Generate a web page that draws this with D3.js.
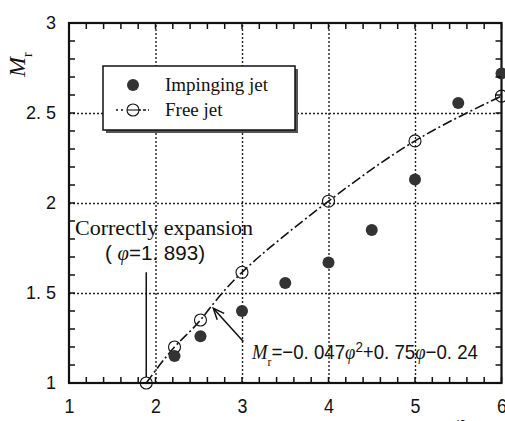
<!DOCTYPE html>
<html>
<head>
<meta charset="utf-8">
<script src="https://cdn.jsdelivr.net/npm/d3@7"></script>
<style>
  body { margin: 0; background: #fff; }
  svg { display: block; }
</style>
</head>
<body>
<svg id="chart"></svg>
<script>
// Impinging jet (filled dots)
const impingePhi = [2.22, 2.52, 3.0, 3.5, 4.0, 4.5, 5.0, 5.5, 6.0];
const impingeMr  = [1.15, 1.26, 1.40, 1.555, 1.67, 1.85, 2.13, 2.555, 2.72];

// Free jet (open circles, dash-dot fit)
const freePhi = [1.893, 2.22, 2.52, 3.0, 4.0, 5.0, 6.0];
const freeMr  = [1.0, 1.20, 1.35, 1.615, 2.01, 2.345, 2.594];

// Tick labels
const xTicks = [1, 2, 3, 4, 5, 6];
const yTicks = [1, 1.5, 2, 2.5, 3];
const yTickLabels = ['1', '1. 5', '2', '2. 5', '3'];
const xGrid = [2, 3, 4, 5];
const yGrid = [1.5, 2, 2.5];

// Annotation anchors in data units
const expansionPhi = 1.893;
const arrowTip = [2.668, 1.415];
const arrowTail = [3.015, 1.23];

const W = 505, H = 421;
const margin = {top: 23, right: 3.5, bottom: 38, left: 69};
const width = W - margin.left - margin.right;
const height = H - margin.top - margin.bottom;

const svg = d3.select('#chart').attr('width', W).attr('height', H);

const x = d3.scaleLinear().domain([1, 6]).range([0, width]);
const y = d3.scaleLinear().domain([1, 3]).range([height, 0]);
// page-coordinate versions for the frame ticks
const px = d3.scaleLinear().domain([1, 6]).range([margin.left, W - margin.right]);
const py = d3.scaleLinear().domain([1, 3]).range([H - margin.bottom, margin.top]);

const chart = svg.append('g')
    .attr('transform', `translate(${margin.left},${margin.top})`);

// dotted grid
const gridStyle = g => {
  g.select('.domain').remove();
  g.selectAll('line').attr('stroke', '#222').attr('stroke-width', 1.4).attr('stroke-dasharray', '2,2');
};
chart.append('g')
    .attr('transform', `translate(0,${height})`)
    .call(d3.axisBottom(x).tickValues(xGrid).tickSize(-height).tickFormat(''))
    .call(gridStyle);
chart.append('g')
    .call(d3.axisLeft(y).tickValues(yGrid).tickSize(-width).tickFormat(''))
    .call(gridStyle);

// tick labels
chart.append('g').attr('transform', `translate(0,${height})`)
    .call(d3.axisBottom(x).tickValues(xTicks).tickSize(0).tickPadding(15).tickFormat(d3.format('d')))
    .call(g => g.select('.domain').remove())
    .call(g => g.selectAll('text')
        .attr('font-family', 'Liberation Sans, Arial, sans-serif')
        .attr('font-size', 21).attr('fill', '#111')
        .attr('transform', 'scale(0.85,1)'));

chart.append('g')
    .call(d3.axisLeft(y).tickValues(yTicks).tickSize(0).tickPadding(13)
      .tickFormat((d, i) => yTickLabels[i]))
    .call(g => g.select('.domain').remove())
    .call(g => g.selectAll('text')
        .attr('font-family', 'Liberation Sans, Arial, sans-serif')
        .attr('font-size', 18).attr('fill', '#111'));

// frame
chart.append('rect')
    .attr('width', width).attr('height', height)
    .attr('fill', 'none').attr('stroke', '#111').attr('stroke-width', 2.2);

// minor ticks, all pointing inward (page coordinates)
const xMinor = px.ticks(25), yMinor = py.ticks(20);
const fBot = H - margin.bottom, fTop = margin.top, fLft = margin.left, fRgt = W - margin.right;
svg.selectAll('.xb').data(xMinor).enter().append('line').attr('class', 'xb')
    .attr('x1', d => px(d)).attr('x2', d => px(d)).attr('y1', fBot).attr('y2', fBot - 6)
    .attr('stroke', '#111').attr('stroke-width', 1.5);
svg.selectAll('.xt').data(xMinor).enter().append('line').attr('class', 'xt')
    .attr('x1', d => px(d)).attr('x2', d => px(d)).attr('y1', fTop).attr('y2', fTop + 6)
    .attr('stroke', '#111').attr('stroke-width', 1.5);
svg.selectAll('.yl').data(yMinor).enter().append('line').attr('class', 'yl')
    .attr('y1', d => py(d)).attr('y2', d => py(d)).attr('x1', fLft).attr('x2', fLft + 6)
    .attr('stroke', '#111').attr('stroke-width', 1.5);
svg.selectAll('.yr').data(yMinor).enter().append('line').attr('class', 'yr')
    .attr('y1', d => py(d)).attr('y2', d => py(d)).attr('x1', fRgt).attr('x2', fRgt - 6)
    .attr('stroke', '#111').attr('stroke-width', 1.5);

// free jet fitted curve (dash-dot)
const freeData = freePhi.map((p, i) => ({phi: p, mr: freeMr[i]}));
const line = d3.line().x(d => x(d.phi)).y(d => y(d.mr)).curve(d3.curveNatural);
chart.append('path')
    .datum(freeData)
    .attr('d', line)
    .attr('fill', 'none').attr('stroke', '#111').attr('stroke-width', 1.6)
    .attr('stroke-dasharray', '10,3,2,3');

chart.selectAll('.free')
    .data(freeData)
  .join('circle')
    .attr('class', 'free')
    .attr('cx', d => x(d.phi)).attr('cy', d => y(d.mr)).attr('r', 6)
    .attr('fill', 'none').attr('stroke', '#111').attr('stroke-width', 1.1);

const impData = impingePhi.map((p, i) => ({phi: p, mr: impingeMr[i]}));
chart.selectAll('.imp')
    .data(impData)
  .join('circle')
    .attr('class', 'imp')
    .attr('cx', d => x(d.phi)).attr('cy', d => y(d.mr)).attr('r', 6)
    .attr('fill', '#333');

// correct expansion marker line and label
chart.append('line')
    .attr('x1', x(expansionPhi)).attr('x2', x(expansionPhi))
    .attr('y1', y(1.0) - 6).attr('y2', y(1.615))
    .attr('stroke', '#111').attr('stroke-width', 1.5);
chart.append('text')
    .attr('x', 6).attr('y', 212)
    .attr('font-family', 'Liberation Serif, Times New Roman, serif')
    .attr('font-size', 20).attr('fill', '#111')
    .attr('textLength', 178).attr('lengthAdjust', 'spacingAndGlyphs')
    .text('Correctly expansion');
const t2 = chart.append('text')
    .attr('x', 36).attr('y', 237)
    .attr('font-family', 'Liberation Sans, Arial, sans-serif')
    .attr('font-size', 20).attr('fill', '#111')
    .attr('textLength', 100).attr('lengthAdjust', 'spacingAndGlyphs');
t2.append('tspan').text('( ');
t2.append('tspan').attr('font-family', 'Liberation Serif, serif').attr('font-style', 'italic').text('φ');
t2.append('tspan').text('=1. 893)');

// arrow to fitted curve
chart.append('line')
    .attr('x1', x(arrowTail[0])).attr('y1', y(arrowTail[1]))
    .attr('x2', x(arrowTip[0])).attr('y2', y(arrowTip[1]))
    .attr('stroke', '#111').attr('stroke-width', 1.5);
{
  const tx = x(arrowTip[0]), ty = y(arrowTip[1]);
  const ang = Math.atan2(y(arrowTail[1]) - ty, x(arrowTail[0]) - tx);
  const L = 12, s = 0.4;
  const p1 = [tx + L * Math.cos(ang - s), ty + L * Math.sin(ang - s)];
  const p2 = [tx + L * Math.cos(ang + s), ty + L * Math.sin(ang + s)];
  chart.append('path')
      .attr('d', `M${p1}L${tx},${ty}L${p2}`)
      .attr('fill', 'none').attr('stroke', '#111').attr('stroke-width', 1.5);
}

// fit equation
const eq = chart.append('text')
    .attr('x', 183).attr('y', 336)
    .attr('font-family', 'Liberation Sans, Arial, sans-serif')
    .attr('font-size', 21).attr('fill', '#111')
    .attr('textLength', 226).attr('lengthAdjust', 'spacingAndGlyphs');
eq.append('tspan').attr('font-family', 'Liberation Serif, serif').attr('font-style', 'italic').text('M');
eq.append('tspan').attr('font-family', 'Liberation Serif, serif').attr('font-size', 13).attr('dy', 7).text('r');
eq.append('tspan').attr('dy', -7).text('=−0. 047');
eq.append('tspan').attr('font-family', 'Liberation Serif, serif').attr('font-style', 'italic').text('φ');
eq.append('tspan').attr('font-size', 15).attr('dy', -7).text('2');
eq.append('tspan').attr('dy', 7).text('+0. 75');
eq.append('tspan').attr('font-family', 'Liberation Serif, serif').attr('font-style', 'italic').text('φ');
eq.append('tspan').text('−0. 24');

// legend
const legend = svg.append('g').attr('transform', 'translate(103,66)');
legend.append('rect').attr('x', 3).attr('y', 3).attr('width', 192).attr('height', 64).attr('fill', '#555');
legend.append('rect').attr('width', 192).attr('height', 64)
    .attr('fill', '#fff').attr('stroke', '#111').attr('stroke-width', 1.5);
legend.append('circle').attr('cx', 30).attr('cy', 19).attr('r', 6).attr('fill', '#333');
legend.append('line').attr('x1', 13).attr('x2', 46).attr('y1', 44).attr('y2', 44)
    .attr('stroke', '#111').attr('stroke-width', 1.4).attr('stroke-dasharray', '2,3,2,4,14');
legend.append('circle').attr('cx', 30).attr('cy', 44).attr('r', 6)
    .attr('fill', '#fff').attr('stroke', '#111').attr('stroke-width', 1.1);
legend.append('line').attr('x1', 24).attr('x2', 36).attr('y1', 44).attr('y2', 44)
    .attr('stroke', '#111').attr('stroke-width', 1.1);
legend.selectAll('.ltxt')
    .data(['Impinging jet', 'Free jet'])
  .join('text')
    .attr('x', 62).attr('y', (d, i) => 25 + i * 25)
    .attr('font-family', 'Liberation Serif, Times New Roman, serif')
    .attr('font-size', 19).attr('fill', '#111')
    .text(d => d);

// axis titles
const yt = svg.append('text')
    .attr('transform', 'translate(25,77) rotate(-90)')
    .attr('font-family', 'Liberation Serif, serif').attr('fill', '#111');
yt.append('tspan').attr('font-style', 'italic').attr('font-size', 24).text('M');
yt.append('tspan').attr('font-size', 14).attr('dy', 7).text('r');

svg.append('text')
    .attr('x', 460).attr('y', 431).attr('text-anchor', 'middle')
    .attr('font-family', 'Liberation Serif, serif').attr('font-style', 'italic')
    .attr('font-size', 24).attr('fill', '#111')
    .text('φ');
</script>
</body>
</html>
